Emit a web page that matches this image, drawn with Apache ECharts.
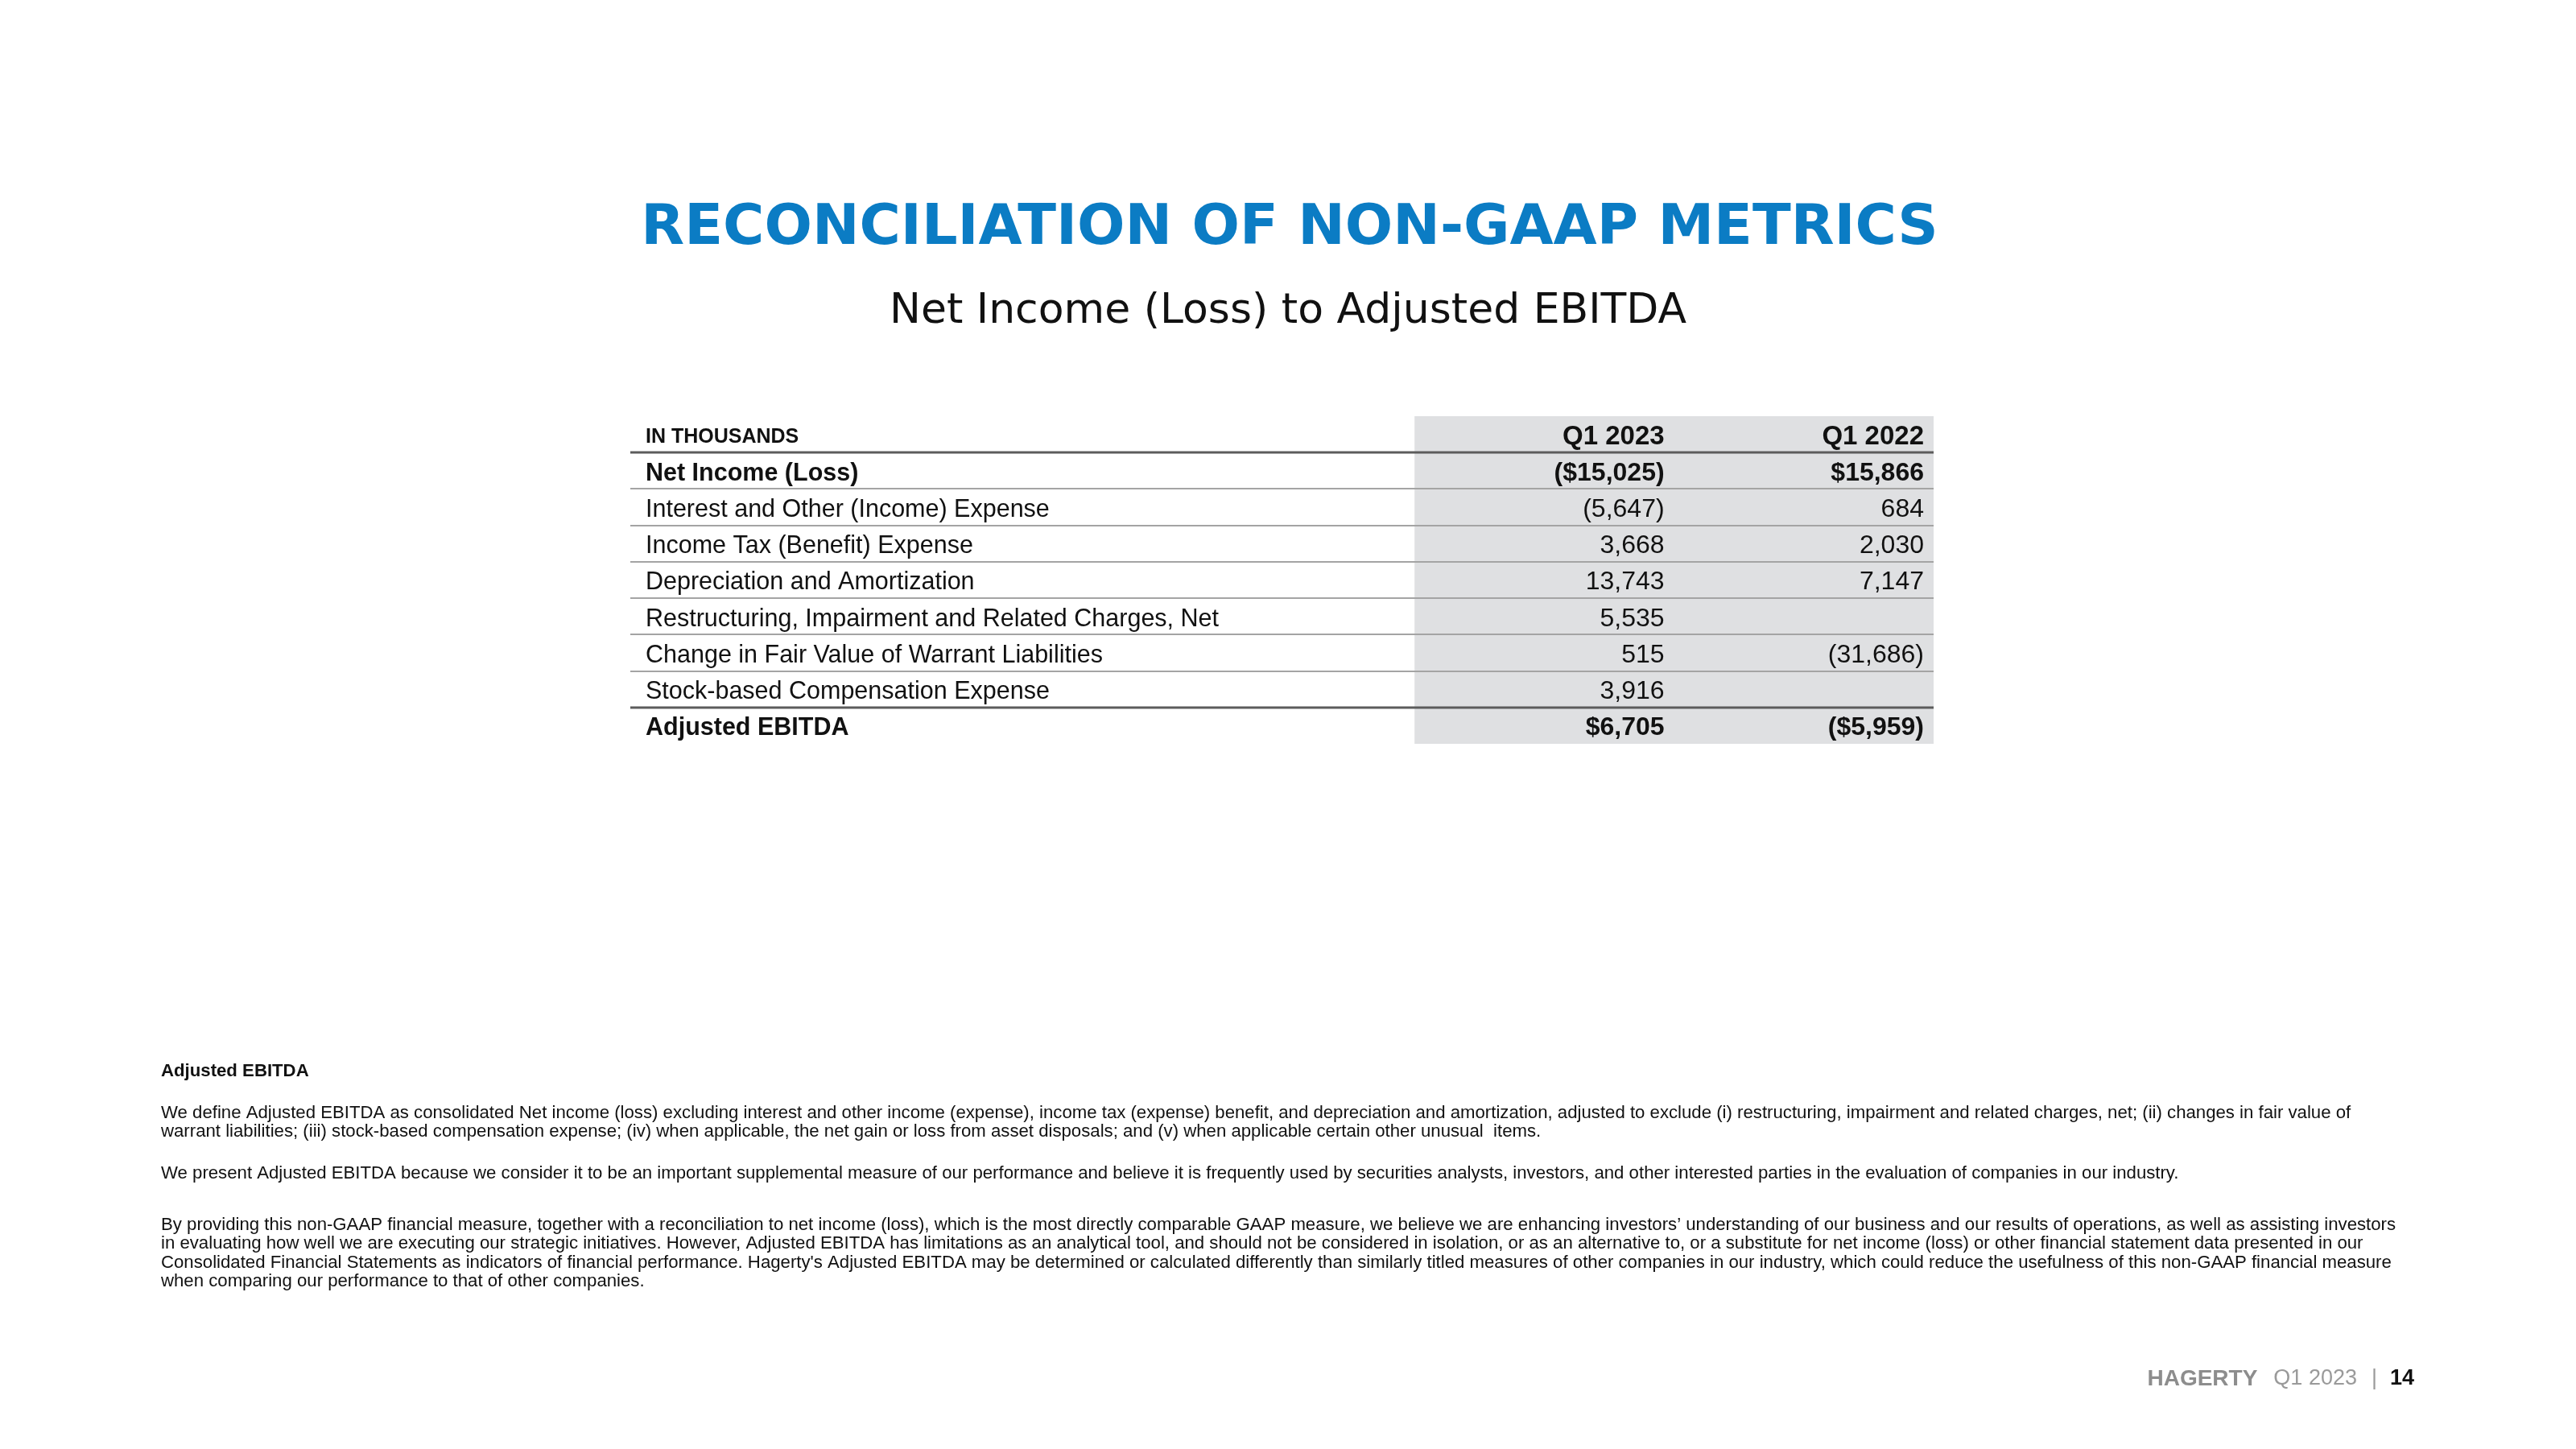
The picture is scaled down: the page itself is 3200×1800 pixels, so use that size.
<!DOCTYPE html>
<html><head><meta charset="utf-8">
<script src="https://cdn.jsdelivr.net/npm/echarts@6/dist/echarts.min.js"></script>
<style>html,body{margin:0;padding:0;background:#fff}#c{width:3200px;height:1800px}</style>
</head><body><div id="c"></div>
<script>
// ---------- data ----------
const pageTitle = 'RECONCILIATION OF NON-GAAP METRICS';
const tableTitle = 'Net Income (Loss) to Adjusted EBITDA';
const unitLabel = 'IN THOUSANDS';
const periods = ['Q1 2023', 'Q1 2022'];
const rowLabels = [
  'Net Income (Loss)',
  'Interest and Other (Income) Expense',
  'Income Tax (Benefit) Expense',
  'Depreciation and Amortization',
  'Restructuring, Impairment and Related Charges, Net',
  'Change in Fair Value of Warrant Liabilities',
  'Stock-based Compensation Expense',
  'Adjusted EBITDA'
];
const q1_2023 = [-15025, -5647, 3668, 13743, 5535, 515, 3916, 6705];
const q1_2022 = [15866, 684, 2030, 7147, null, -31686, null, -5959];
const totalRows = ['Net Income (Loss)', 'Adjusted EBITDA'];

const noteTitle = 'Adjusted EBITDA';
const notePara1 = [
  'We define Adjusted EBITDA as consolidated Net income (loss) excluding interest and other income (expense), income tax (expense) benefit, and depreciation and amortization, adjusted to exclude (i) restructuring, impairment and related charges, net; (ii) changes in fair value of',
  'warrant liabilities; (iii) stock-based compensation expense; (iv) when applicable, the net gain or loss from asset disposals; and (v) when applicable certain other unusual  items.'
];
const notePara2 = [
  'We present Adjusted EBITDA because we consider it to be an important supplemental measure of our performance and believe it is frequently used by securities analysts, investors, and other interested parties in the evaluation of companies in our industry.'
];
const notePara3 = [
  'By providing this non-GAAP financial measure, together with a reconciliation to net income (loss), which is the most directly comparable GAAP measure, we believe we are enhancing investors\u2019 understanding of our business and our results of operations, as well as assisting investors',
  'in evaluating how well we are executing our strategic initiatives. However, Adjusted EBITDA has limitations as an analytical tool, and should not be considered in isolation, or as an alternative to, or a substitute for net income (loss) or other financial statement data presented in our',
  'Consolidated Financial Statements as indicators of financial performance. Hagerty\'s Adjusted EBITDA may be determined or calculated differently than similarly titled measures of other companies in our industry, which could reduce the usefulness of this non-GAAP financial measure',
  'when comparing our performance to that of other companies.'
];
const footerBrand = 'HAGERTY';
const footerPeriod = 'Q1 2023';
const footerPage = '14';

// ---------- layout / style ----------
const FONT = 'Liberation Sans, Arial, Helvetica, sans-serif';
const WIDE = 'DejaVu Sans, Verdana, sans-serif';
const LABEL_SPAN = 3;               // label column width in x-axis units; each period column = 1 unit
const categories = [unitLabel].concat(rowLabels);
const seriesValues = [q1_2023, q1_2022];
const X_MAX = LABEL_SPAN + periods.length;

function fmt(v, dollar) {
  const s = (dollar ? '$' : '') + Math.abs(v).toLocaleString('en-US');
  return v < 0 ? '(' + s + ')' : s;
}

const chart = echarts.init(document.getElementById('c'), null, {renderer: 'canvas'});

function renderBg(params, api) {
  const tl = api.coord([LABEL_SPAN, 0]);
  const br = api.coord([X_MAX, categories.length - 1]);
  const bh = api.size([0, 1])[1];
  return {type: 'rect', shape: {x: tl[0], y: tl[1] - bh / 2, width: br[0] - tl[0], height: br[1] - tl[1] + bh},
          style: {fill: '#dfe0e2'}};
}
function renderRule(params, api) {
  const r = api.value(1);
  const a = api.coord([0, r]);
  const b = api.coord([X_MAX, r]);
  const bh = api.size([0, 1])[1];
  const y = Math.round(a[1] - bh / 2);
  const thick = (r === 1 || r === categories.length - 1);
  return {type: 'line', shape: {x1: a[0] - 7, y1: y, x2: b[0], y2: y},
          style: {stroke: thick ? '#5c5c5c' : '#a4a4a4', lineWidth: thick ? 3 : 2}};
}
function makeValueRender(p) {
  return function (params, api) {
    const row = api.value(1);
    const pt = api.coord([api.value(0), row]);
    let text, bold, size;
    if (row === 0) { text = periods[p]; bold = true; size = 33; }
    else {
      const label = rowLabels[row - 1];
      const isTotal = totalRows.indexOf(label) >= 0;
      text = fmt(api.value(2), isTotal); bold = isTotal; size = 32;
    }
    return {type: 'text', x: pt[0] - 12, y: pt[1] + 3,
            style: {text: text, align: 'right', verticalAlign: 'middle', fill: '#111',
                    fontFamily: FONT, fontSize: size, fontWeight: bold ? 'bold' : 'normal'}};
  };
}
function valueData(p) {
  const out = [[LABEL_SPAN + p + 1, 0, 0]];
  seriesValues[p].forEach((v, i) => { if (v !== null && v !== undefined) out.push([LABEL_SPAN + p + 1, i + 1, v]); });
  return out;
}

const noteStyle = {fontFamily: FONT, fontSize: 22.2, fill: '#111', lineHeight: 23.5};

const option = {
  backgroundColor: '#ffffff',
  animation: false,
  grid: {left: 790, right: 798, top: 517, bottom: 876, containLabel: false},
  xAxis: {type: 'value', min: 0, max: X_MAX, show: false},
  yAxis: {
    type: 'category', data: categories, inverse: true,
    axisLine: {show: false}, axisTick: {show: false}, splitLine: {show: false},
    axisLabel: {
      inside: true, margin: 12, interval: 0, align: 'left',
      fontFamily: FONT, fontSize: 30.5, color: '#111',
      formatter: function (v, i) {
        if (i === 0) return '{h|' + v + '}';
        return totalRows.indexOf(v) >= 0 ? '{b|' + v + '}' : '{r|' + v + '}';
      },
      rich: {
        h: {fontFamily: FONT, fontWeight: 'bold', fontSize: 25, color: '#111', padding: [7, 0, 0, 0]},
        b: {fontFamily: FONT, fontWeight: 'bold', fontSize: 30.5, color: '#111', padding: [7, 0, 0, 0]},
        r: {fontFamily: FONT, fontSize: 30.5, color: '#111', padding: [7, 0, 0, 0]}
      }
    },
    z: 10
  },
  series: [
    {type: 'custom', name: 'bg', renderItem: renderBg, data: [[LABEL_SPAN, 0]], z: 1, silent: true},
    {type: 'custom', name: 'rules', renderItem: renderRule,
     data: categories.slice(1).map((c, i) => [0, i + 1]), z: 2, silent: true},
    {type: 'custom', name: periods[0], renderItem: makeValueRender(0), data: valueData(0), z: 3},
    {type: 'custom', name: periods[1], renderItem: makeValueRender(1), data: valueData(1), z: 3}
  ],
  graphic: [
    {type: 'text', x: 1602, y: 285, style: {text: pageTitle, align: 'center', verticalAlign: 'middle',
      fontFamily: WIDE, fontWeight: 'bold', fontSize: 70, fill: '#0b7cc4'}},
    {type: 'text', x: 1600, y: 387, style: {text: tableTitle, align: 'center', verticalAlign: 'middle',
      fontFamily: WIDE, fontSize: 52, fill: '#111'}},
    {type: 'text', x: 200, y: 1331, style: {text: noteTitle, align: 'left', verticalAlign: 'middle',
      fontFamily: FONT, fontWeight: 'bold', fontSize: 22.2, fill: '#111'}},
    {type: 'text', x: 200, y: 1371, style: Object.assign({text: notePara1.join('\n'), align: 'left', verticalAlign: 'top'}, noteStyle)},
    {type: 'text', x: 200, y: 1446, style: Object.assign({text: notePara2.join('\n'), align: 'left', verticalAlign: 'top'}, noteStyle)},
    {type: 'text', x: 200, y: 1510, style: Object.assign({text: notePara3.join('\n'), align: 'left', verticalAlign: 'top'}, noteStyle)},
    {type: 'text', x: 2999, y: 1713, style: {
      text: '{h|' + footerBrand + '}{q|' + footerPeriod + '}{s||}{n|' + footerPage + '}',
      align: 'right', verticalAlign: 'middle',
      rich: {
        h: {fontFamily: FONT, fontWeight: 'bold', fontSize: 28, fill: '#8d8d8d'},
        q: {fontFamily: FONT, fontSize: 27, fill: '#9a9a9a', padding: [0, 0, 0, 20]},
        s: {fontFamily: FONT, fontSize: 27, fill: '#9a9a9a', padding: [0, 16, 0, 18]},
        n: {fontFamily: FONT, fontWeight: 'bold', fontSize: 27, fill: '#111'}
      }}}
  ]
};
chart.setOption(option);
</script></body></html>
